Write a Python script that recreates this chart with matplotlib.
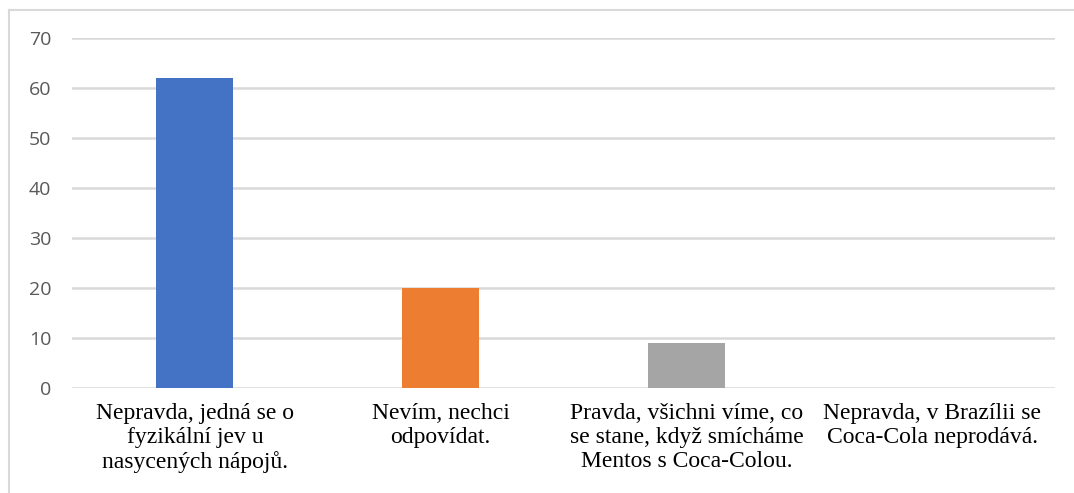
import matplotlib.pyplot as plt
from matplotlib.lines import Line2D
import numpy as np

categories = [
    "Nepravda, jedná se o\nfyzikální jev u\nnasycených nápojů.",
    "Nevím, nechci\nodpovídat.",
    "Pravda, všichni víme, co\nse stane, když smícháme\nMentos s Coca-Colou.",
    "Nepravda, v Brazílii se\nCoca-Cola neprodává.",
]
values = [62, 20, 9, 0]
colors = ["#4472C4", "#ED7D31", "#A5A5A5", "#FFC000"]
yticks = [0, 10, 20, 30, 40, 50, 60, 70]

fig = plt.figure(figsize=(10.74, 4.93), dpi=100)
ax = fig.add_axes([72 / 1074, 105 / 493, 983 / 1074, 350 / 493])

x = np.arange(len(categories))
ax.bar(x, values, width=0.313, color=colors, zorder=3)

ax.set_xlim(-0.5, len(categories) - 0.5)
ax.set_ylim(0, 70)
ax.set_yticks(yticks)
ax.yaxis.grid(True, color="#d9d9d9", linewidth=1.8, zorder=0)
ax.set_axisbelow(True)
for s in ax.spines.values():
    s.set_visible(False)
ax.tick_params(axis="y", length=0, pad=15, labelsize=14, labelcolor="#595959")
for lab in ax.get_yticklabels():
    lab.set_fontfamily("Open Sans")
ax.set_xticks(x)
ax.set_xticklabels(categories, fontfamily="Liberation Serif", fontsize=17, color="black",
                   linespacing=1.17)
ax.tick_params(axis="x", length=0, pad=11)

# chart frame (left and top edges visible)
fig.add_artist(Line2D([9 / 1074, 9 / 1074], [0, 1 - 10 / 493], color="#d9d9d9", lw=1.5))
fig.add_artist(Line2D([9 / 1074, 1], [1 - 10 / 493, 1 - 10 / 493], color="#d9d9d9", lw=1.5))

fig.savefig("out.png", dpi=100)
